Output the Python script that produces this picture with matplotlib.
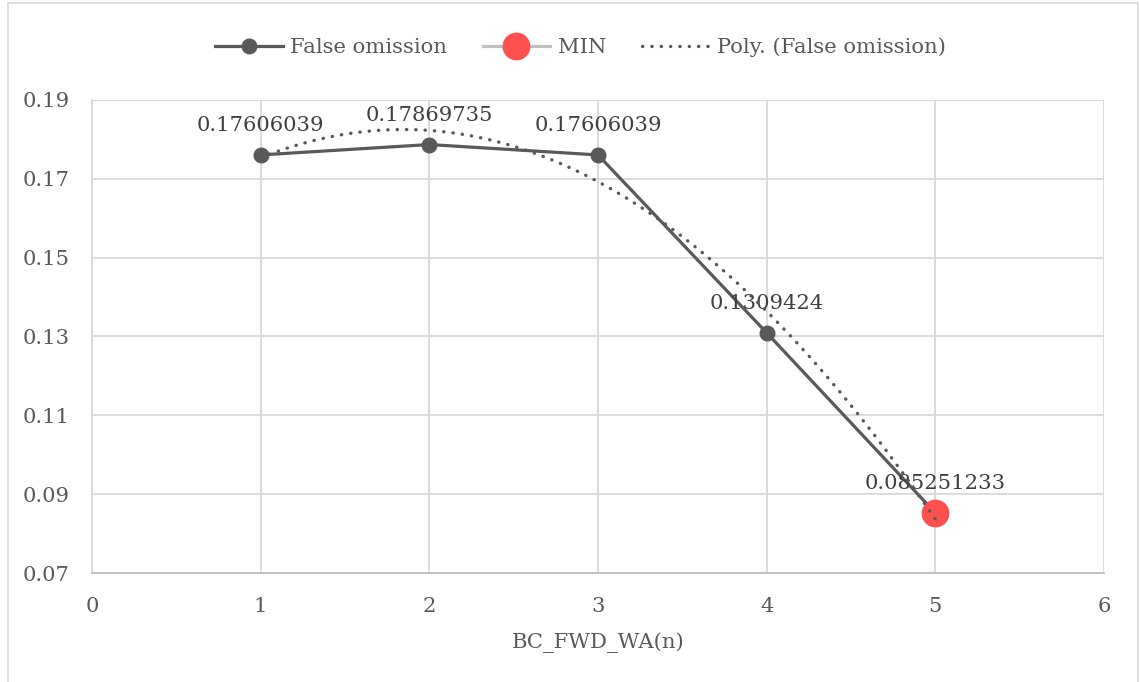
import matplotlib
matplotlib.use('Agg')
import matplotlib.pyplot as plt
import numpy as np
from matplotlib.patches import Rectangle

# data
n_vals = [1, 2, 3, 4, 5]
false_omission = [0.17606039, 0.17869735, 0.17606039, 0.1309424, 0.085251233]
labels = ['0.17606039', '0.17869735', '0.17606039', '0.1309424', '0.085251233']
min_x = [5]
min_y = [0.085251233]

plt.rcParams['font.family'] = ['DejaVu Serif']

dark = '#595959'
fs = 15.2
fig = plt.figure(figsize=(11.4, 6.82), dpi=100)
ax = fig.add_axes([0.0807, 0.1598, 0.8877, 0.6936])

# frame around the whole chart
fig.patches.append(Rectangle((8/1140, -0.05), 1130/1140, 1.05 - 3/682, transform=fig.transFigure,
                             fill=False, edgecolor='#d9d9d9', lw=1.2))

# polynomial trendline (order 2)
coef = np.polyfit(n_vals, false_omission, 2)
xs = np.linspace(1, 5, 200)
ax.plot(xs, np.polyval(coef, xs), color=dark, lw=2.4, linestyle=(0, (0.1, 2.7)),
        dash_capstyle='round', label='Poly. (False omission)', zorder=4)

ax.plot(n_vals, false_omission, color=dark, lw=2.3, marker='o', markersize=10.5,
        label='False omission', zorder=3)
ax.plot(min_x, min_y, color='#bfbfbf', lw=2.3, marker='o', markersize=19,
        markerfacecolor='#ff5050', markeredgecolor='#ff5050', label='MIN', zorder=3.5)

for x, y, s in zip(n_vals, false_omission, labels):
    ax.annotate(s, (x, y), xytext=(0, 14), textcoords='offset points', ha='center',
                va='bottom', fontsize=fs, color='#404040')

ax.set_xlim(0, 6)
ax.set_ylim(0.07, 0.19)
ax.set_xticks(range(0, 7))
ax.set_yticks([0.07, 0.09, 0.11, 0.13, 0.15, 0.17, 0.19])
ax.set_yticklabels(['0.07', '0.09', '0.11', '0.13', '0.15', '0.17', '0.19'])
ax.grid(True, color='#d9d9d9', lw=1.3)
ax.set_axisbelow(True)
for sp in ['top', 'right']:
    ax.spines[sp].set_visible(False)
ax.spines['left'].set_color('#d9d9d9')
ax.spines['bottom'].set_color('#bfbfbf')
ax.spines['left'].set_linewidth(1.3)
ax.spines['bottom'].set_linewidth(1.3)
ax.tick_params(length=0, labelsize=fs, labelcolor=dark)
ax.tick_params(axis='y', pad=16)
ax.tick_params(axis='x', pad=17)
ax.set_xlabel('BC_FWD_WA(n)', fontsize=fs, color=dark, labelpad=12)

h, l = ax.get_legend_handles_labels()
order = [1, 2, 0]
fig.legend([h[i] for i in order], [l[i] for i in order], loc='center',
           bbox_to_anchor=(0.509, 0.931), ncol=3, frameon=False, fontsize=fs,
           labelcolor=dark, handlelength=3.2, columnspacing=1.7, handletextpad=0.35)

plt.savefig('out.png', dpi=100)
